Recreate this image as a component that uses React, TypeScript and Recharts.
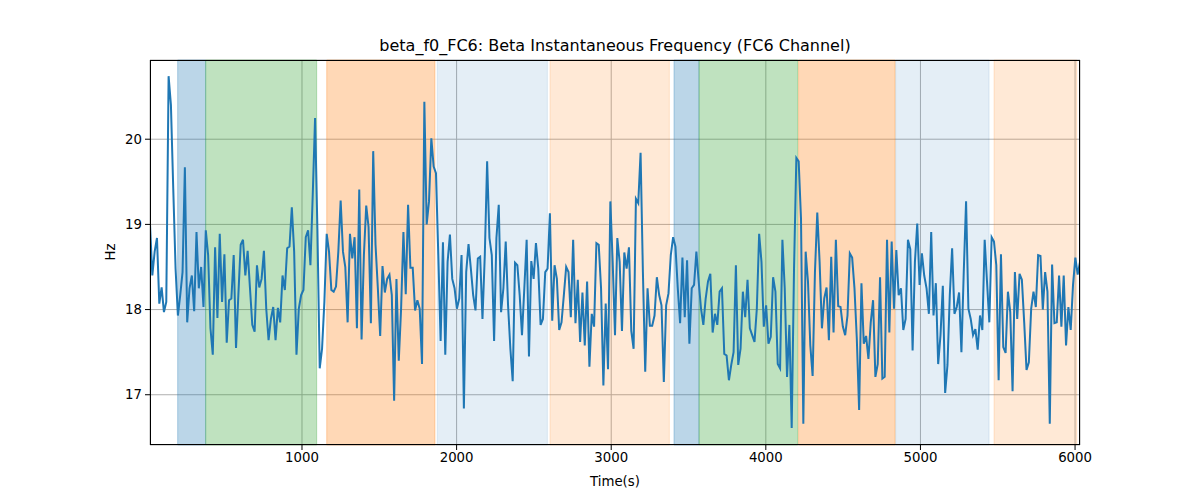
import { LineChart, Line, XAxis, YAxis, CartesianGrid, ReferenceArea } from "recharts";

const START_TIME = 17;
const STEP = 15.0375;

// beta instantaneous frequency, FC6 channel (Hz), one value per sample
const hzValues = [
  19.0, 18.4, 18.68, 18.84, 18.07, 18.26, 17.97, 18.09, 20.74, 20.4,
  19.42, 18.48, 17.93, 18.17, 18.44, 19.67, 17.85, 18.25, 18.4, 17.98,
  18.91, 18.25, 18.5, 18.03, 18.93, 18.64, 17.78, 17.47, 18.73, 17.9,
  18.89, 18.09, 18.65, 17.61, 18.11, 18.13, 18.64, 17.55, 18.17, 18.76,
  18.82, 18.4, 18.69, 18.25, 17.82, 17.74, 18.52, 18.26, 18.36, 18.69,
  18.01, 17.64, 17.89, 18.03, 17.64, 18.02, 17.85, 18.4, 18.23, 18.72,
  18.74, 19.2, 18.68, 17.47, 18.01, 18.17, 18.23,
  18.85, 18.93, 18.52, 19.35, 20.25, 18.95, 17.31, 17.54, 18.09, 18.89,
  18.68, 18.23, 18.21, 18.27, 18.68, 19.28, 18.68, 18.5, 17.85, 18.89,
  18.6, 18.85, 17.78, 19.41, 17.65, 18.64, 19.22, 18.97, 17.84, 19.86,
  18.76, 18.25, 17.69, 18.51, 18.2, 18.36, 18.41, 18.17, 16.93, 18.36,
  17.4, 18.01, 18.91, 18.18, 19.23, 18.49, 18.49, 17.99, 18.11, 18.01,
  17.36, 20.44, 19.0, 19.27, 20.01, 19.68, 19.6, 18.64, 17.63, 18.79,
  17.47, 18.56, 18.88, 18.36, 18.25, 18.01,
  18.13, 18.64, 16.84, 18.44, 18.77, 18.48, 18.17, 17.99, 18.6, 18.62,
  17.89, 18.64, 19.74, 18.84, 18.64, 17.63, 18.84, 19.23, 17.97, 18.25,
  18.8, 18.05, 17.54, 17.16, 18.55, 18.52, 18.17, 17.7, 18.25, 18.82,
  17.45, 18.57, 18.36, 18.78, 18.48, 17.82, 17.89, 18.44, 18.48, 19.13,
  17.87, 18.52, 18.36, 17.76, 17.85, 18.17, 18.5, 18.44, 17.91, 18.82,
  17.84, 18.35, 17.62, 18.2, 17.58, 18.33, 17.33, 17.95, 17.8, 18.78,
  18.76, 18.25, 17.11, 18.07, 17.3, 19.27, 18.56,
  17.7, 18.84, 18.56, 17.75, 18.67, 18.48, 18.73, 17.75, 17.54, 19.3,
  19.25, 19.84, 18.44, 17.27, 18.25, 17.81, 17.81, 17.93, 18.38, 18.17,
  18.05, 17.15, 18.05, 18.19, 18.64, 18.85, 18.74, 18.25, 17.84, 18.61,
  17.91, 18.58, 17.6, 18.25, 18.29, 18.68, 18.33, 18.01, 17.82, 18.13,
  18.33, 18.42, 17.73, 17.95, 17.82, 18.21, 18.25, 17.48, 17.46, 17.17,
  17.35, 17.5, 18.52, 17.35, 17.54, 18.21, 17.91, 18.35, 17.78, 17.7,
  17.62, 18.01, 18.89, 18.56, 17.8, 18.05, 17.6,
  17.68, 18.38, 18.21, 17.36, 17.31, 18.82, 18.25, 17.21, 17.82, 16.61,
  18.48, 19.78, 19.74, 19.07, 16.66, 18.68, 18.33, 17.58, 17.22, 18.44,
  19.14, 18.56, 17.78, 18.13, 18.26, 17.64, 18.62, 17.73, 18.82, 18.04,
  18.03, 17.8, 17.7, 17.93, 18.66, 18.61, 18.25, 17.66, 16.82, 18.31,
  17.6, 17.69, 17.42, 17.85, 18.11, 17.21, 17.36, 18.38, 17.19, 17.21,
  18.82, 17.73, 18.8, 18.01, 18.7, 18.17, 18.25, 17.76, 17.89, 18.82,
  18.71, 17.52, 18.56, 19.01, 18.29, 18.66, 18.4,
  18.25, 17.95, 18.91, 17.93, 18.31, 17.36, 17.7, 18.28, 17.02, 17.35,
  18.17, 18.72, 17.95, 18.03, 18.2, 17.5, 18.44, 19.27, 18.01, 17.89,
  17.7, 17.77, 17.53, 17.93, 17.76, 18.82, 18.33, 17.85, 18.85, 18.8,
  18.52, 17.17, 18.65, 17.56, 17.49, 18.21, 17.97, 17.04, 18.44, 17.89,
  18.42, 18.35, 17.85, 17.29, 17.38, 18.01, 18.21, 18.03, 18.64, 18.63,
  18.0, 18.44, 18.21, 16.66, 18.53, 17.84, 17.85, 18.4, 17.8, 18.4,
  17.58, 18.03, 17.76, 18.29, 18.61, 18.41, 18.56,
];

const xTicks = [1000, 2000, 3000, 4000, 5000, 6000];
const yTicks = [17, 18, 19, 20];

// shaded phases
const bandStarts = [196, 377, 1160, 1875, 2604, 3406, 3568, 4212, 4840, 5476];
const bandEnds = [377, 1095, 1860, 2587, 3376, 3568, 4206, 4836, 5444, 6011];
const bandColors = ["#1f77b4", "#2ca02c", "#ff7f0e", "#1f77b4", "#ff7f0e", "#1f77b4", "#2ca02c", "#ff7f0e", "#1f77b4", "#ff7f0e"];
const bandAlphas = [0.3, 0.3, 0.3, 0.12, 0.17, 0.3, 0.3, 0.3, 0.12, 0.17];

const data = hzValues.map((hz, i) => ({ time: START_TIME + i * STEP, hz }));
const xMax = START_TIME + STEP * (hzValues.length - 1);

const font = "'DejaVu Sans', sans-serif";

const App = () => {
  return (
    <div style={{ position: "fixed", left: 0, top: 0, width: 1200, height: 500, background: "#fff", fontFamily: font }}>
      <div style={{ position: "absolute", left: 150, top: 36, width: 930, textAlign: "center", fontSize: 16, lineHeight: "19px", color: "#000" }}>
        beta_f0_FC6: Beta Instantaneous Frequency (FC6 Channel)
      </div>
      <LineChart
        width={1200}
        height={500}
        data={data}
        margin={{ top: 60, right: 120, bottom: 5, left: 100 }}
        style={{ fontFamily: font }}
      >
        {bandStarts.map((s, i) => (
          <ReferenceArea
            key={i}
            x1={s}
            x2={bandEnds[i]}
            y1={16.41}
            y2={20.93}
            fill={bandColors[i]}
            fillOpacity={bandAlphas[i]}
            stroke={bandColors[i]}
            strokeOpacity={bandAlphas[i]}
          />
        ))}
        <CartesianGrid stroke="#b0b0b0" strokeWidth={1} />
        <XAxis
          dataKey="time"
          type="number"
          domain={[START_TIME, xMax]}
          ticks={xTicks}
          height={50}
          axisLine={false}
          tickLine={{ stroke: "#000" }}
          tickSize={5}
          tickMargin={3}
          tick={{ fill: "#000", fontSize: 13.3 }}
          allowDataOverflow
        />
        <YAxis
          type="number"
          domain={[16.41, 20.93]}
          ticks={yTicks}
          width={50}
          axisLine={false}
          tickLine={{ stroke: "#000" }}
          tickSize={5}
          tickMargin={3}
          tick={{ fill: "#000", fontSize: 13.3 }}
          allowDataOverflow
        />
        <Line
          type="linear"
          dataKey="hz"
          stroke="#1f77b4"
          strokeWidth={2}
          dot={false}
          activeDot={false}
          isAnimationActive={false}
        />
      </LineChart>
      <div style={{ position: "absolute", left: 150, top: 60, width: 930, height: 385, border: "1px solid #000", boxSizing: "border-box", pointerEvents: "none" }} />
      <div style={{ position: "absolute", left: 110, top: 252, transform: "translate(-50%, -50%) rotate(-90deg)", fontSize: 13.3, color: "#000" }}>
        Hz
      </div>
      <div style={{ position: "absolute", left: 615, top: 481, transform: "translate(-50%, -50%)", fontSize: 13.3, color: "#000" }}>
        Time(s)
      </div>
    </div>
  );
};

export default App;
